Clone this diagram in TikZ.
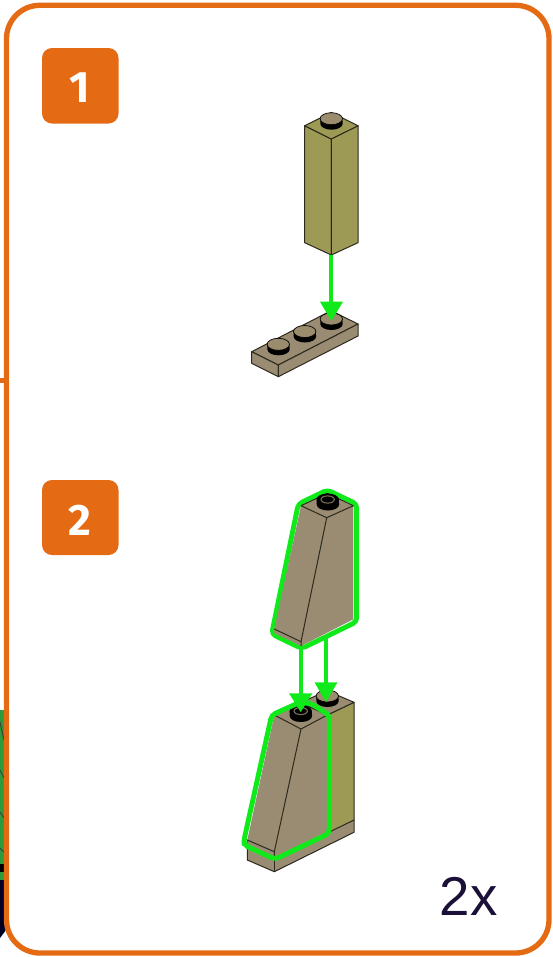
\documentclass[tikz,border=0pt]{standalone}
\usepackage{fontspec}
\setmainfont{Liberation Sans}
\newfontfamily\badgefont{Fira Sans}
\definecolor{frameorange}{HTML}{E56A14}
\definecolor{olive}{HTML}{9C9A55}
\definecolor{tan}{HTML}{9A8C72}
\definecolor{studtop}{HTML}{9A8C6C}
\definecolor{brightgreen}{HTML}{10EA1A}
\definecolor{inkdark}{HTML}{1B1038}
\definecolor{leafgreen}{HTML}{2E9A3C}
\definecolor{brickline}{HTML}{2C2A1E}
\tikzset{
  x=0.75pt,y=-0.75pt,
  frame/.style={draw=frameorange,line width=4pt,rounded corners=25pt},
  badge/.style={fill=frameorange,rounded corners=7.5pt},
  badgetext/.style={text=white,font=\badgefont\bfseries\fontsize{33}{33}\selectfont,inner sep=0pt,anchor=center},
  oliveface/.style={fill=olive,draw=brickline,line width=0.75pt,line join=round},
  tanface/.style={fill=tan,draw=brickline,line width=0.75pt,line join=round},
  edge/.style={draw=brickline,line width=0.75pt},
  outline/.style={draw=brightgreen,line width=3.7pt,rounded corners=3pt,line join=round},
  gline/.style={draw=brightgreen,line width=3pt},
  ghead/.style={fill=brightgreen},
  leafmark/.style={draw=black!75,line width=0.8pt},
}
\newcommand{\studat}[3]{% x, y, top colour
  \fill[black] (#1-11,#2) -- (#1-11,#2+5) arc[x radius=8.4pt,y radius=4.5pt,start angle=180,end angle=360] -- (#1+11,#2) -- cycle;
  \fill[#3,draw=black,line width=0.5pt] (#1,#2) ellipse[x radius=8.4pt,y radius=4.5pt];
}
\newcommand{\hollowstud}[2]{%
  \fill[black] (#1-11,#2) -- (#1-11,#2+5) arc[x radius=8.4pt,y radius=4.5pt,start angle=180,end angle=360] -- (#1+11,#2) -- cycle;
  \fill[black] (#1,#2) ellipse[x radius=8.4pt,y radius=4.5pt];
  \draw[tan!80!black,line width=0.8pt] (#1,#2) ellipse[x radius=5pt,y radius=2.7pt];
}
\begin{document}
\begin{tikzpicture}
\useasboundingbox (0,0) rectangle (553,957);
\fill[white] (0,0) rectangle (553,957);
% scraps at the left edge
\fill[leafgreen] (0,710) rectangle (6,880);
\draw[leafmark] (0,722) -- (4,740);
\draw[leafmark] (0,770) -- (4,778);
\draw[leafmark] (0,812) -- (4,818);
\draw[leafmark] (0,848) -- (4,852);
\fill[black] (0,864) rectangle (4,872);
\fill[black!85!blue] (0,880) -- (6,880) -- (6,930) -- (0,938) -- cycle;
\fill[frameorange] (0,378) rectangle (6,383);
% frame
\draw[frame,fill=white] (6.5,5.3) rectangle (549,953);
% badges
\fill[badge] (42,48) rectangle (118.5,123.5);
\node[badgetext] (n1) at (80,88) {1};
\fill[badge] (42,480) rectangle (118.5,555);
\node[badgetext] (n2) at (80,520) {2};
% step 1: tall brick
\path[oliveface] (304.7,125.7) -- (331.3,139) -- (331.3,255) -- (304.7,242.7) -- cycle;
\path[oliveface] (358,125.7) -- (331.3,139) -- (331.3,255) -- (358,242.7) -- cycle;
\path[oliveface] (304.7,125.7) -- (331.3,112.5) -- (358,125.7) -- (331.3,139) -- cycle;
\studat{331.3}{118.7}{studtop}
% step 1: plate
\path[tanface] (251.7,351.7) -- (278.3,365) -- (358,324) -- (331,310.7) -- cycle;
\path[tanface] (251.7,351.7) -- (278.3,365) -- (278.3,376.7) -- (251.7,363.3) -- cycle;
\path[tanface] (278.3,365) -- (358,324) -- (358,336) -- (278.3,376.7) -- cycle;
\studat{278.3}{344.3}{studtop}
\studat{304.7}{331.5}{studtop}
\studat{331.3}{319}{studtop}
% step 1: arrow
\coordinate (a1s) at (331.3,255);
\coordinate (a1b) at (331.3,303);
\draw[gline] (a1s) -- (a1b);
\fill[ghead] (320,301.7) -- (343,301.7) -- (331.3,321) -- cycle;
% step 2: loose slope brick
\draw[outline] (298.3,504) -- (327.3,490) -- (356.7,504) -- (356.7,621.7) -- (301.7,648.5) -- (271.7,634) -- cycle;
\path[tanface,draw=none] (301,505.7) -- (327.3,493.3) -- (353.3,505.7) -- (353.3,619.3) -- (301,646) -- (274.3,633.3) -- (274.3,629) -- cycle;
\draw[edge] (301,505.7) -- (326.7,517.7) -- (353.3,505.7);
\draw[edge] (326.7,517.7) -- (301,641.7);
\draw[edge] (274.3,629) -- (301,641.7) -- (301,646);
\draw[edge] (301,505.7) -- (327.3,493.3) -- (353.3,505.7);
\hollowstud{327.7}{499.5}
\coordinate (a2s) at (300.7,648);
\coordinate (a2b) at (300.7,695);
\coordinate (a3s) at (326,637);
\coordinate (a3b) at (326,684);
\draw[gline] (a2s) -- (a2b);
\draw[gline] (a3s) -- (a3b);
% step 2: assembled stack
\path[tanface] (247.3,840) -- (274.3,853) -- (354,820) -- (354,832.3) -- (274.3,871.7) -- (247.3,860) -- cycle;
\draw[edge] (274.3,858) -- (274.3,871.7);
\path[oliveface] (327.3,715) -- (354,702.3) -- (354,820) -- (327.3,833) -- cycle;
\path[tanface] (300,703) -- (327,690.7) -- (354,702.3) -- (327.3,715) -- cycle;
\studat{327.3}{696}{studtop}
\path[tanface,draw=none] (274.3,715) -- (301,703) -- (327.3,715) -- (327.3,833) -- (274.3,857) -- (247.3,844) -- (247.3,840) -- cycle;
\draw[edge] (274.3,715) -- (301,729) -- (327.3,715);
\draw[edge] (301,729) -- (274.3,851.7);
\draw[edge] (247.3,840) -- (274.3,851.7) -- (274.3,857);
\draw[edge] (274.3,715) -- (301,703) -- (327.3,715);
\hollowstud{300.7}{711}
\draw[outline] (298.3,703) -- (310,703) -- (329.3,715) -- (329.3,833.3) -- (275,859.3) -- (244,845) -- (244,840) -- (271.7,715) -- cycle;
% arrowheads
\fill[ghead] (289,693.3) -- (312.5,693.3) -- (300.7,712) -- cycle;
\fill[ghead] (314.5,682.3) -- (337.5,682.3) -- (326,702) -- cycle;
% count
\node[text=inkdark,font=\fontsize{41}{41}\selectfont,inner sep=0pt] (count) at (468.5,896) {2x};
\end{tikzpicture}
\end{document}
